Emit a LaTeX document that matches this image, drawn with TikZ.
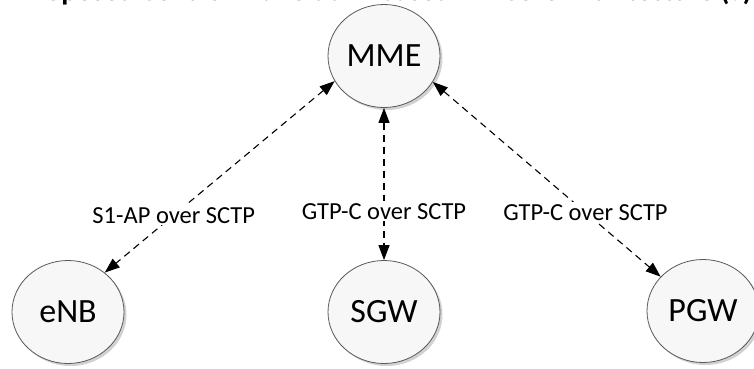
\documentclass[tikz,border=0pt]{standalone}
\usepackage{fontspec}
\setmainfont{Carlito}
\usetikzlibrary{arrows.meta,shapes.geometric,shadows}
\begin{document}
\begin{tikzpicture}[x=1pt,y=-1pt,
  ent/.style={ellipse, draw=black!65, line width=0.8pt, fill=black!3,
    minimum width=112pt, minimum height=103pt, inner sep=0pt,
    font=\fontsize{34}{40}\selectfont,
    drop shadow={shadow xshift=2.5pt, shadow yshift=-2.5pt, opacity=0.18, fill=black}},
  link/.style={dashed, dash pattern=on 7pt off 5pt, line width=1.1pt,
    {Triangle[length=15pt,width=11pt]}-{Triangle[length=15pt,width=11pt]}},
  lbl/.style={fill=white, inner sep=2pt, font=\fontsize{24.5}{28}\selectfont}]
\useasboundingbox (0,0) rectangle (754,368);
\fill[white] (0,0) rectangle (754,368);
\begin{scope}
  \clip (0,0) rectangle (754,368);
  \node[anchor=base east, inner sep=0pt, font=\bfseries\fontsize{29}{33}\selectfont]
    (title) at (752,0.5) {Proposed Control-Plane SCTP-based LTE Core Architecture (?)};
\end{scope}
\node[ent] (mme) at (384,56) {MME};
\node[ent] (enb) at (68,312) {eNB};
\node[ent] (sgw) at (384,312) {SGW};
\node[ent] (pgw) at (703,311) {PGW};
\draw[link] (mme.207) -- node[lbl, pos=0.7] (l1) {S1-AP over SCTP} (enb.47);
\draw[link] (mme.south) -- node[lbl, pos=0.68] (l2) {GTP-C over SCTP} (sgw.north);
\draw[link] (mme.332) -- node[lbl, pos=0.67] (l3) {GTP-C over SCTP} (pgw.141);
\end{tikzpicture}
\end{document}
